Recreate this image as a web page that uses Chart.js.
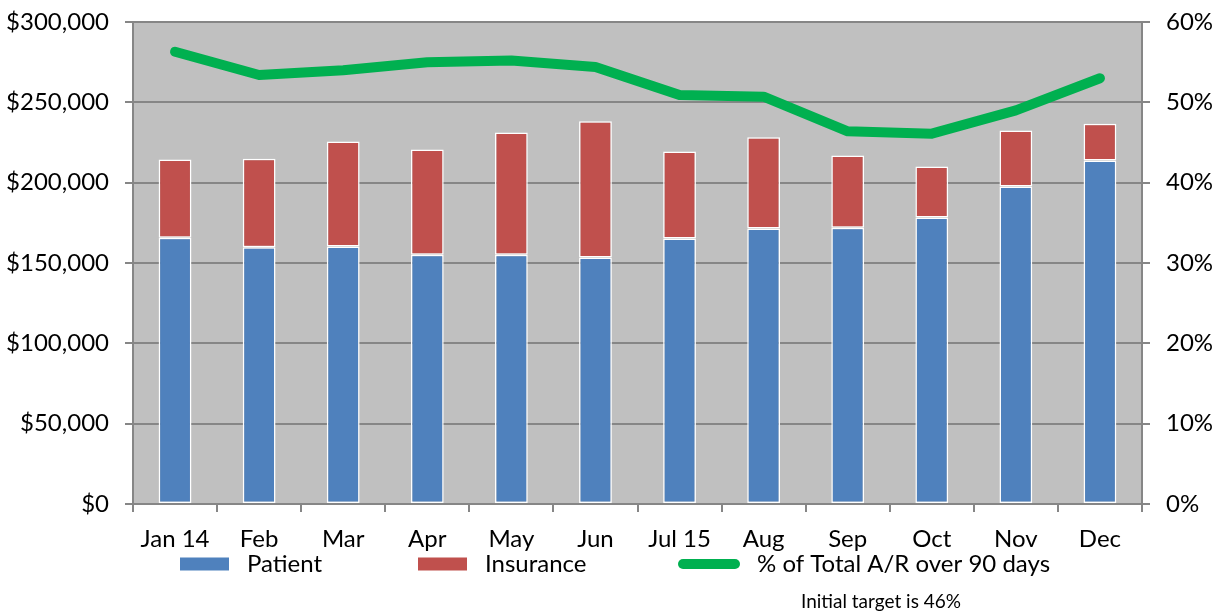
<!DOCTYPE html>
<html>
<head>
<meta charset="utf-8">
<script src="https://cdn.jsdelivr.net/npm/chart.js@4/dist/chart.umd.min.js"></script>
<style>
html,body{margin:0;padding:0;background:#fff;}
#wrap{width:1218px;height:614px;position:relative;}
</style>
</head>
<body>
<div id="wrap"><canvas id="c" width="1218" height="614"></canvas></div>
<script>
const categories = ['Jan 14','Feb','Mar','Apr','May','Jun','Jul 15','Aug','Sep','Oct','Nov','Dec'];
const patient = [165650,159800,160200,155200,155200,153400,165200,171450,172000,178300,197600,213840];
const insurance = [48800,55100,65500,65500,76100,84750,54250,56750,44960,31800,34900,22860];
const pctOver90 = [56.3,53.4,54.0,55.0,55.2,54.4,50.9,50.7,46.4,46.1,49.0,53.0];
const leftTicks = [0,50000,100000,150000,200000,250000,300000];
const rightTicks = [0,10,20,30,40,50,60];
const noteText = 'Initial target is 46%';

const FONT = 'Lato, "Open Sans", sans-serif';
const GRID = '#868686';

const legendPlugin = {
  id: 'customLegend',
  afterDraw(chart) {
    const ctx = chart.ctx;
    const ds = chart.data.datasets;
    const y = 564;
    const items = [
      {x: 180, w: 49, ds: ds[1], type: 'box'},
      {x: 418, w: 49, ds: ds[2], type: 'box'},
      {x: 683, w: 52, ds: ds[0], type: 'line'}
    ];
    ctx.save();
    ctx.font = '24px ' + FONT;
    ctx.textBaseline = 'middle';
    ctx.fillStyle = '#000';
    items.forEach(it => {
      if (it.type === 'box') {
        ctx.fillStyle = it.ds.backgroundColor;
        ctx.fillRect(it.x, y - 6.5, it.w, 13);
        ctx.fillStyle = '#000';
        ctx.textAlign = 'left';
        ctx.fillText(it.ds.label, it.x + it.w + 18, y);
      } else {
        ctx.strokeStyle = it.ds.borderColor;
        ctx.lineWidth = 10;
        ctx.lineCap = 'round';
        ctx.beginPath();
        ctx.moveTo(it.x, y);
        ctx.lineTo(it.x + it.w, y);
        ctx.stroke();
        ctx.fillStyle = '#000';
        ctx.textAlign = 'left';
        ctx.fillText(it.ds.label, it.x + it.w + 22, y);
      }
    });
    ctx.font = '19px ' + FONT;
    ctx.textAlign = 'center';
    ctx.fillText(noteText, 881, 602);
    ctx.restore();
  }
};

const bgPlugin = {
  id: 'plotBg',
  beforeDraw(chart) {
    const a = chart.chartArea;
    const ctx = chart.ctx;
    ctx.save();
    ctx.fillStyle = '#c0c0c0';
    ctx.fillRect(a.left, a.top, a.right - a.left, a.bottom - a.top);
    ctx.restore();
  }
};

function fixV(width) {
  return function(s) { s.width = width; s.paddingTop = 0; s.paddingBottom = 0; };
}

new Chart(document.getElementById('c'), {
  type: 'bar',
  data: {
    labels: categories,
    datasets: [
      {
        type: 'line',
        label: '% of Total A/R over 90 days',
        data: pctOver90,
        yAxisID: 'y1',
        borderColor: '#00b050',
        backgroundColor: '#00b050',
        borderWidth: 10,
        borderCapStyle: 'round',
        borderJoinStyle: 'round',
        pointRadius: 0,
        tension: 0,
        order: 0
      },
      {
        label: 'Patient',
        data: patient,
        backgroundColor: '#4f81bd',
        borderColor: '#ffffff',
        borderWidth: 1.5,
        borderSkipped: false,
        yAxisID: 'y',
        stack: 's',
        order: 1
      },
      {
        label: 'Insurance',
        data: insurance,
        backgroundColor: '#c0504d',
        borderColor: '#ffffff',
        borderWidth: 1.5,
        borderSkipped: false,
        yAxisID: 'y',
        stack: 's',
        order: 1
      }
    ]
  },
  options: {
    responsive: false,
    animation: false,
    layout: {padding: {top: 22, left: 0, right: 0, bottom: 0}},
    plugins: {legend: {display: false}, tooltip: {enabled: false}},
    datasets: {bar: {categoryPercentage: 1, barPercentage: 0.39}},
    scales: {
      x: {
        stacked: true,
        offset: true,
        grid: {display: true, drawOnChartArea: false, drawTicks: true, tickLength: 8, color: GRID, lineWidth: 2, offset: true},
        border: {display: true, color: GRID, width: 2},
        ticks: {color: '#000', font: {family: FONT, size: 24}, padding: 13, maxRotation: 0, autoSkip: false},
        afterFit(s) { s.height = 110; s.paddingLeft = 0; s.paddingRight = 0; }
      },
      y: {
        position: 'left',
        stacked: true,
        min: 0, max: 300000,
        afterBuildTicks(s) { s.ticks = leftTicks.map(v => ({value: v})); },
        grid: {color: GRID, lineWidth: 2, tickLength: 8},
        border: {display: true, color: GRID, width: 2},
        ticks: {color: '#000', font: {family: FONT, size: 24}, padding: 16,
          callback: v => '$' + Number(v).toLocaleString('en-US')},
        afterFit: fixV(133)
      },
      y1: {
        position: 'right',
        min: 0, max: 60,
        afterBuildTicks(s) { s.ticks = rightTicks.map(v => ({value: v})); },
        grid: {drawOnChartArea: false, color: GRID, lineWidth: 2, tickLength: 8},
        border: {display: true, color: GRID, width: 2},
        ticks: {color: '#000', font: {family: FONT, size: 24}, padding: 16, callback: v => v + '%'},
        afterFit: fixV(76)
      }
    }
  },
  plugins: [bgPlugin, legendPlugin]
});
</script>
</body>
</html>
